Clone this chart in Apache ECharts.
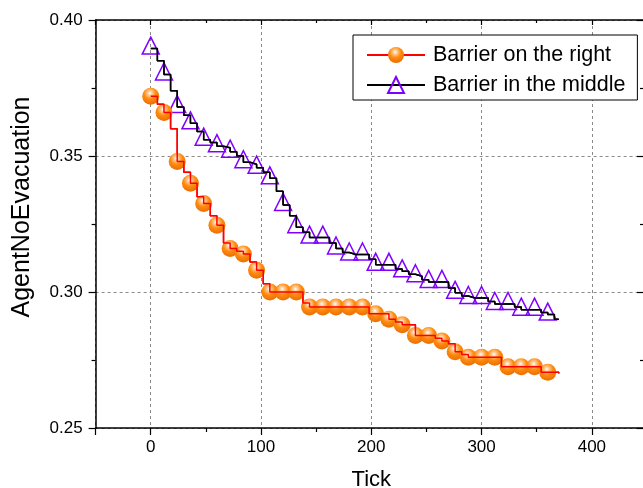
<!DOCTYPE html>
<html><head><meta charset="utf-8">
<script src="https://cdn.jsdelivr.net/npm/echarts@6/dist/echarts.min.js"></script>
<style>html,body{margin:0;padding:0;background:#fff}#c{width:643px;height:488px}</style>
</head><body><div id="c"></div>
<script>
const seriesNames = ['Barrier on the right', 'Barrier in the middle'];
const markerTicks = [0,12,24,36,48,60,72,84,96,108,120,132,144,156,168,180,192,204,216,228,240,252,264,276,288,300,312,324,336,348,360];
const rightMarkers = [0.372,0.366,0.348,0.340,0.3325,0.3245,0.316,0.314,0.308,0.300,0.300,0.300,0.2945,0.2945,0.2945,0.2945,0.2945,0.292,0.290,0.288,0.284,0.284,0.282,0.278,0.276,0.276,0.276,0.2725,0.2725,0.2725,0.2705];
const middleMarkers = [0.3895,0.380,0.368,0.362,0.356,0.3536,0.3516,0.3477,0.3457,0.3418,0.332,0.3238,0.320,0.320,0.316,0.3138,0.3138,0.310,0.310,0.3076,0.3058,0.3037,0.3037,0.2997,0.2978,0.2978,0.2956,0.2956,0.2935,0.2935,0.2917];
const stepTicks = [6,18,30,42,54,66,78,90,102,114,126,138,150,162,174,186,198,210,222,234,246,258,270,282,294,306,318,330,342,354,366];
const rightSteps = [0.369,0.360,0.344,0.335,0.328,0.318,0.315,0.311,0.303,0.300,0.300,0.296,0.2945,0.2945,0.2945,0.2945,0.292,0.292,0.289,0.288,0.284,0.283,0.281,0.277,0.276,0.276,0.2725,0.2725,0.2725,0.2705,0.2705];
const middleSteps = [0.385,0.374,0.365,0.359,0.355,0.353,0.350,0.347,0.344,0.337,0.328,0.322,0.320,0.318,0.3145,0.3138,0.312,0.310,0.3085,0.3065,0.3045,0.3037,0.3015,0.2985,0.2978,0.2965,0.2956,0.2945,0.2935,0.2925,0.290];
const endTick = 370;
const rightEnd = 0.270;
const middleEnd = 0.290;
const xRange = [-50, 450];
const yRange = [0.25, 0.40];
const yStep = 0.05;

function build(markers, steps, endVal) {
  const out = [];
  for (let i = 0; i < markerTicks.length; i++) {
    out.push({ value: [markerTicks[i], markers[i]] });
    if (i < stepTicks.length) out.push({ value: [stepTicks[i], steps[i]], symbol: 'none' });
  }
  out.push({ value: [endTick, endVal], symbol: 'none' });
  return out;
}
function plain(d) { return d.map(p => p.value); }

const rightData = build(rightMarkers, rightSteps, rightEnd);
const middleData = build(middleMarkers, middleSteps, middleEnd);

const FONT = 'Liberation Sans, Arial, Helvetica, sans-serif';
const sphere = {
  type: 'radial', x: 0.45, y: 0.32, r: 0.72,
  colorStops: [
    { offset: 0, color: '#ffffff' },
    { offset: 0.16, color: '#ffd0a0' },
    { offset: 0.48, color: '#ff8c10' },
    { offset: 1, color: '#e86a00' }
  ]
};

const chart = echarts.init(document.getElementById('c'), null, { renderer: 'canvas' });
chart.setOption({
  animation: false,
  backgroundColor: '#fff',
  grid: { left: 95.6, right: -4, top: 20, bottom: 60, containLabel: false, outerBoundsMode: 'none' },
  legend: {
    data: seriesNames,
    orient: 'vertical',
    left: 353, top: 35,
    padding: [9, 12, 4, 13],
    itemGap: 8,
    itemWidth: 58, itemHeight: 20,
    borderColor: '#000', borderWidth: 1,
    backgroundColor: '#fff',
    textStyle: { fontFamily: FONT, fontSize: 21.5, color: '#000', padding: [0, 0, 0, 3] }
  },
  xAxis: [{
    type: 'value', min: xRange[0], max: xRange[1], splitNumber: 5,
    name: 'Tick', nameLocation: 'middle', nameGap: 41,
    nameTextStyle: { fontFamily: FONT, fontSize: 22, color: '#000' },
    axisLine: { show: true, onZero: false, lineStyle: { color: '#000', width: 1.5 } },
    axisTick: { show: true, inside: false, length: 7, lineStyle: { color: '#000', width: 1.2 } },
    minorTick: { show: true, splitNumber: 2, length: 4, lineStyle: { color: '#000', width: 1.2 } },
    axisLabel: { fontFamily: FONT, fontSize: 17, color: '#000', margin: 11, showMinLabel: false, showMaxLabel: false },
    splitLine: { show: true, lineStyle: { color: '#8a8a8a', type: [3, 3], width: 1 } }
  }, {
    type: 'value', position: 'top', min: xRange[0], max: xRange[1], splitNumber: 5,
    axisLine: { show: true, onZero: false, lineStyle: { color: '#000', width: 1.5 } },
    axisTick: { show: true, inside: true, length: 5, lineStyle: { color: '#000', width: 1.2 } },
    minorTick: { show: true, splitNumber: 2, length: 3, lineStyle: { color: '#000', width: 1.2 } },
    axisLabel: { show: false }, splitLine: { show: false }
  }],
  yAxis: [{
    type: 'value', min: yRange[0], max: yRange[1], interval: yStep,
    name: 'AgentNoEvacuation', nameLocation: 'middle', nameGap: 61,
    nameTextStyle: { fontFamily: FONT, fontSize: 25, color: '#000', padding: [0, 0, 0, 34] },
    axisLine: { show: true, onZero: false, lineStyle: { color: '#000', width: 1.5 } },
    axisTick: { show: true, inside: false, length: 7, lineStyle: { color: '#000', width: 1.2 } },
    minorTick: { show: true, splitNumber: 2, length: 4, lineStyle: { color: '#000', width: 1.2 } },
    axisLabel: { fontFamily: FONT, fontSize: 17, color: '#000', margin: 13, formatter: v => v.toFixed(2) },
    splitLine: { show: true, lineStyle: { color: '#8a8a8a', type: [3, 3], width: 1 } }
  }, {
    type: 'value', position: 'right', min: yRange[0], max: yRange[1], interval: yStep,
    axisLine: { show: true, onZero: false, lineStyle: { color: '#000', width: 1.5 } },
    axisTick: { show: true, inside: true, length: 10, lineStyle: { color: '#000', width: 1.2 } },
    minorTick: { show: true, splitNumber: 2, length: 7, lineStyle: { color: '#000', width: 1.2 } },
    axisLabel: { show: false }, splitLine: { show: false }
  }],
  series: [{
    name: seriesNames[0], type: 'line', step: 'end', data: rightData,
    symbol: 'circle', symbolSize: 17, showAllSymbol: true,
    itemStyle: { color: sphere },
    lineStyle: { color: '#ff0000', width: 1.5 },
    emphasis: { disabled: true }, silent: true, z: 3
  }, {
    name: seriesNames[1], type: 'line', step: 'end', data: middleData,
    symbol: 'triangle', symbolSize: [17, 17], symbolOffset: [0, -3], showAllSymbol: true,
    itemStyle: { color: 'rgba(255,255,255,0)', borderColor: '#8000ff', borderWidth: 1.5 },
    lineStyle: { color: '#000000', width: 1.5 },
    emphasis: { disabled: true }, silent: true, z: 2
  }, {
    name: 'rightOverlay', type: 'line', step: 'end', data: plain(rightData),
    symbol: 'none', lineStyle: { color: '#ff0000', width: 1.5 },
    emphasis: { disabled: true }, silent: true, z: 4
  }, {
    name: 'middleOverlay', type: 'line', step: 'end', data: plain(middleData),
    symbol: 'none', lineStyle: { color: '#000000', width: 1.5 },
    emphasis: { disabled: true }, silent: true, z: 4
  }]
});
</script>
</body></html>
